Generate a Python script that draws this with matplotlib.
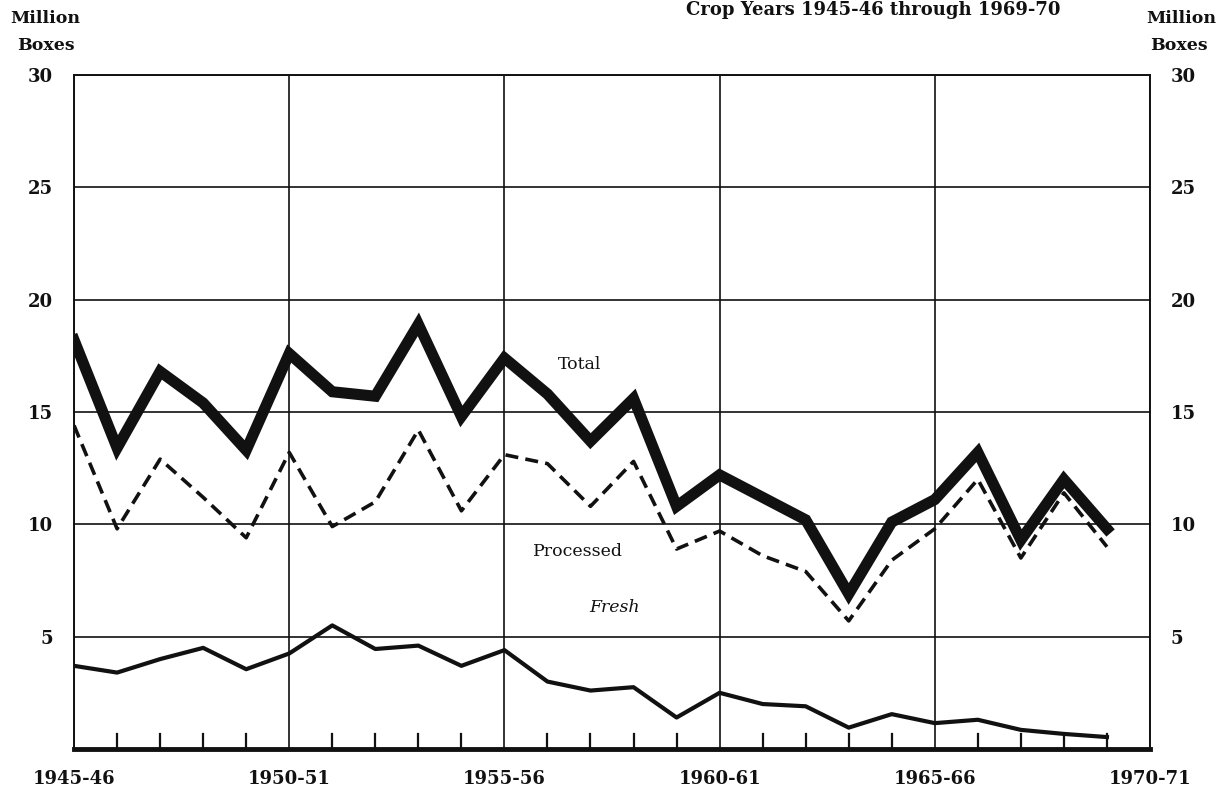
import matplotlib
matplotlib.use('Agg')
import matplotlib.pyplot as plt

# crop years 1945-46 .. 1969-70, index 0 = 1945-46
years = list(range(25))
total = [18.2, 13.4, 16.8, 15.4, 13.3, 17.6, 15.9, 15.7, 18.9, 14.8,
         17.4, 15.8, 13.7, 15.6, 10.8, 12.2, 11.2, 10.2, 6.9, 10.1,
         11.1, 13.2, 9.3, 12.0, 9.8]
processed = [14.4, 9.8, 12.9, 11.2, 9.4, 13.2, 9.9, 11.0, 14.2, 10.6,
             13.1, 12.7, 10.8, 12.8, 8.9, 9.7, 8.6, 7.9, 5.7, 8.4,
             9.8, 12.0, 8.5, 11.4, 9.0]
fresh = [3.7, 3.4, 4.0, 4.5, 3.55, 4.25, 5.5, 4.45, 4.6, 3.7,
         4.4, 3.0, 2.6, 2.75, 1.4, 2.5, 2.0, 1.9, 0.95, 1.55,
         1.15, 1.3, 0.85, 0.67, 0.53]

major_pos = [0, 5, 10, 15, 20, 25]
major_lbl = ['1945-46', '1950-51', '1955-56', '1960-61', '1965-66', '1970-71']
y_ticks = [5, 10, 15, 20, 25, 30]

SERIF = ['DejaVu Serif']
INK = '#111111'

fig = plt.figure(figsize=(12.2, 7.95), dpi=100)
fig.patch.set_facecolor('white')
ax = fig.add_axes([0.0607, 0.0579, 0.8819, 0.8478])
ax.set_xlim(0, 25)
ax.set_ylim(0, 30)

# grid: horizontal every 5, vertical every 5 years
for y in y_ticks:
    ax.axhline(y, color=INK, lw=1.2, zorder=1)
for x in major_pos:
    ax.axvline(x, color=INK, lw=1.2, zorder=1)

# short year ticks from bottom
for x in years:
    if x % 5:
        ax.plot([x, x], [0, 0.65], color=INK, lw=1.6, zorder=1)

ax.plot(years, total, color=INK, lw=8, solid_joinstyle='miter', zorder=4)
ax.plot(years, processed, color=INK, lw=2.6, dashes=(3.6, 2.0), zorder=3)
ax.plot(years, fresh, color=INK, lw=3, zorder=3)

for s in ax.spines.values():
    s.set_linewidth(1.4)
    s.set_color(INK)
ax.spines['bottom'].set_linewidth(3.5)

ax.set_xticks(major_pos)
ax.set_xticklabels(major_lbl)
ax.tick_params(axis='x', length=0, pad=15)
ax.set_yticks(y_ticks)
ax.tick_params(axis='y', length=0, pad=15, labelright=True, labelleft=True)
for lbl in ax.get_xticklabels() + ax.get_yticklabels():
    lbl.set_family(SERIF)
    lbl.set_fontsize(13)
    lbl.set_fontweight('bold')
    lbl.set_color(INK)
for lbl in ax.yaxis.get_ticklabels(which='both'):
    lbl.set_family(SERIF)
ax.yaxis.set_tick_params(labelsize=13)
ax.xaxis.set_tick_params(labelsize=13)

# curve labels
ax.text(11.75, 17.1, 'Total', family=SERIF, fontsize=12.5, color=INK, ha='center', va='center')
ax.text(11.7, 8.8, 'Processed', family=SERIF, fontsize=12.5, color=INK, ha='center', va='center')
ax.text(12.55, 6.3, 'Fresh', family=SERIF, fontsize=12.5, style='italic', color=INK, ha='center', va='center')

# headers
fig.text(0.037, 0.977, 'Million', family=SERIF, fontsize=12.5, fontweight='bold', color=INK, ha='center', va='center')
fig.text(0.038, 0.943, 'Boxes', family=SERIF, fontsize=12.5, fontweight='bold', color=INK, ha='center', va='center')
fig.text(0.968, 0.977, 'Million', family=SERIF, fontsize=12.5, fontweight='bold', color=INK, ha='center', va='center')
fig.text(0.966, 0.943, 'Boxes', family=SERIF, fontsize=12.5, fontweight='bold', color=INK, ha='center', va='center')
fig.text(0.716, 0.988, 'Crop Years 1945-46 through 1969-70', family=SERIF, fontsize=13,
         fontweight='bold', color=INK, ha='center', va='center')

fig.savefig('out.png', dpi=100, facecolor='white')
